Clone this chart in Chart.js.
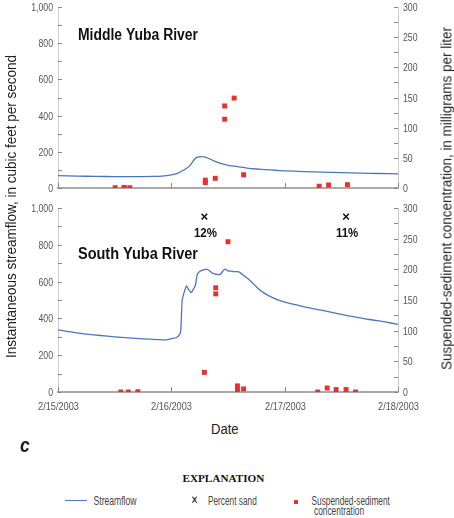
<!DOCTYPE html>
<html>
<head>
<meta charset="utf-8">
<script src="https://cdn.jsdelivr.net/npm/chart.js@4"></script>
<style>
  body { margin: 0; background: #fff; width: 454px; height: 518px; overflow: hidden; position: relative;
         font-family: "Liberation Sans", Arial, sans-serif; }
  canvas { position: absolute; left: 0; }
  .t { position: absolute; white-space: nowrap; color: #222; line-height: 1; }
</style>
</head>
<body>
<canvas id="top" width="454" height="192" style="top:0"></canvas>
<canvas id="bottom" width="454" height="225" style="top:195px"></canvas>

<!-- data-cx/cy = centre, data-w = width the text should take -->
<div class="t" data-cx="10" data-cy="206" data-w="303" data-rot="1" style="font-size:15px;">Instantaneous streamflow, in cubic feet per second</div>
<div class="t" data-cx="446" data-cy="198" data-w="343" data-rot="1" style="font-size:15px;">Suspended-sediment concentration, in milligrams per liter</div>
<div class="t" data-cx="225" data-cy="429" data-w="28" style="font-size:14px;">Date</div>
<div class="t" data-cx="25" data-cy="444" data-w="10" style="font-size:21px; font-weight:bold; font-style:italic;">c</div>
<div class="t" data-cx="223" data-cy="479.5" data-w="82" style="font-family:'Liberation Serif','DejaVu Serif',serif; font-weight:bold; font-size:10.5px; color:#111;">EXPLANATION</div>
<div style="position:absolute; left:65px; top:500px; width:22px; height:0; border-top:1px solid #4a76c4;"></div>
<div class="t" data-cx="114.5" data-cy="500.5" data-w="43" style="font-size:12px; color:#444;">Streamflow</div>
<div class="t" data-cx="194" data-cy="500" data-w="7" style="font-size:12px; color:#111;">&#x2715;</div>
<div class="t" data-cx="232.5" data-cy="500.5" data-w="49" style="font-size:12px; color:#444;">Percent sand</div>
<div style="position:absolute; left:294px; top:500px; width:4px; height:4px; background:#e8312a;"></div>
<div class="t" data-cx="350.5" data-cy="500.5" data-w="78" style="font-size:12px; color:#444;">Suspended-sediment</div>
<div class="t" data-cx="339" data-cy="511" data-w="50" style="font-size:12px; color:#444;">concentration</div>

<script>
// hours since 2/15/2003 00:00
var dayLabels = ["2/15/2003", "2/16/2003", "2/17/2003", "2/18/2003"];

// Middle Yuba River
var middleFlowHours = [0, 4, 8, 12, 16, 20, 22, 24, 25, 26, 27, 28, 28.7, 29.3, 30, 31, 32, 33, 34, 35, 36, 38, 40, 42, 44, 46, 48, 52, 56, 60, 64, 68, 72];
var middleFlow = [68, 66, 64, 63, 63, 64, 66, 72, 78, 90, 105, 125, 152, 168, 172, 172, 162, 150, 140, 132, 125, 118, 110, 105, 102, 98, 95, 91, 88, 85, 82, 80, 78];
var middleSedHours = [12.1, 14.0, 14.0, 15.2, 31.2, 31.2, 33.3, 35.3, 35.3, 37.3, 39.3, 55.3, 57.3, 61.3];
var middleSed = [0.5, 0, 1, 0.5, 9, 13, 16, 114, 136, 149, 22, 3, 5, 5.5];

// South Yuba River
var southFlowHours = [0, 3, 6, 9, 12, 15, 18, 21, 23, 24, 25, 25.7, 26, 26.3, 26.7, 27.2, 27.7, 28.2, 28.7, 29.1, 29.5, 30, 31, 31.5, 32, 32.8, 33.5, 34.3, 35, 35.4, 36, 37, 38, 38.5, 39.5, 40.5, 41.5, 42.5, 43.5, 45, 47, 49, 51, 53, 55, 57, 59, 61, 63, 65, 67, 69, 72];
var southFlow = [338, 325, 315, 307, 300, 294, 289, 285, 283, 290, 295, 310, 335, 500, 540, 576, 555, 540, 560, 580, 640, 655, 665, 668, 660, 645, 640, 638, 660, 668, 658, 655, 654, 650, 630, 610, 585, 560, 540, 518, 496, 482, 470, 458, 448, 438, 427, 416, 407, 398, 390, 382, 368];
var southSedHours = [13.3, 14.9, 16.9, 31.0, 33.4, 33.4, 36.0, 38.0, 38.0, 39.3, 55.0, 57.0, 58.9, 61.0, 63.0];
var southSed = [0, 0, 0.5, 32, 170, 160, 245, 10, 3, 5, 0, 6.5, 4, 4, 0];
var sandHours = [31, 61];
var sandPos = [286, 286];
var sandLabels = ["12%", "11%"];

var fam = "'Liberation Sans', Arial, sans-serif";
var squeeze = 0.76;   // fake a condensed face
var axisGray = "#aaa";

function pts(xs, ys) {
    var out = [];
    for (var i = 0; i < xs.length; i++) out.push({ x: xs[i], y: ys[i] });
    return out;
}

function narrowText(ctx, txt, x, y, align, sx) {
    ctx.save();
    ctx.translate(x, y);
    ctx.scale(sx, 1);
    ctx.textAlign = align;
    ctx.fillText(txt, 0, 0);
    ctx.restore();
}

// tick marks inside the plot box + narrow tick labels
var axesDeco = {
    id: "axesDeco",
    afterDraw: function(chart, args, opts) {
        var ctx = chart.ctx, a = chart.chartArea;
        var sy = chart.scales.y, sy1 = chart.scales.y1, sx = chart.scales.x;
        ctx.save();
        ctx.strokeStyle = "#888";
        ctx.lineWidth = 1;
        ctx.fillStyle = "#555";
        ctx.font = "11.5px " + fam;
        ctx.textBaseline = "middle";
        sy.ticks.forEach(function(t) {
            var p = Math.round(sy.getPixelForValue(t.value)) + 0.5;
            ctx.beginPath(); ctx.moveTo(a.left, p); ctx.lineTo(a.left + 4, p); ctx.stroke();
            if (t.value % 200 === 0) narrowText(ctx, t.value.toLocaleString("en-US"), a.left - 5, p, "right", squeeze);
        });
        sy1.ticks.forEach(function(t) {
            var p = Math.round(sy1.getPixelForValue(t.value)) + 0.5;
            ctx.beginPath(); ctx.moveTo(a.right, p); ctx.lineTo(a.right - 4, p); ctx.stroke();
            if (t.value % 50 === 0) narrowText(ctx, String(t.value), a.right + 5, p, "left", squeeze);
        });
        sx.ticks.forEach(function(t) {
            var p = Math.round(sx.getPixelForValue(t.value)) + 0.5;
            ctx.beginPath(); ctx.moveTo(p, a.bottom); ctx.lineTo(p, a.bottom - 5); ctx.stroke();
            if (opts.showX) narrowText(ctx, dayLabels[t.value / 24], p, a.bottom + 15, "center", 0.8);
        });
        ctx.restore();
    }
};

var panelTitle = {
    id: "panelTitle",
    afterDraw: function(chart, args, opts) {
        var ctx = chart.ctx, a = chart.chartArea;
        ctx.save();
        ctx.fillStyle = "#111";
        ctx.textBaseline = "alphabetic";
        ctx.font = "bold 16px " + fam;
        var w = ctx.measureText(opts.text).width;
        narrowText(ctx, opts.text, a.left + 20, a.top + opts.dy, "left", opts.w / w);
        if (opts.sand) {
            var meta = chart.getDatasetMeta(opts.sand);
            ctx.font = "bold 13.5px " + fam;
            meta.data.forEach(function(el, i) {
                narrowText(ctx, sandLabels[i], el.x + 1, el.y + 20, "center", 0.85);
            });
        }
        ctx.restore();
    }
};

function makeOptions(showX, xHeight, padTop, title, titleDy, sandIndex) {
    return {
        responsive: false,
        animation: false,
        layout: { padding: { top: padTop, left: 0, right: 0, bottom: 0 } },
        plugins: {
            legend: { display: false },
            tooltip: { enabled: false },
            axesDeco: { showX: showX },
            panelTitle: { text: title, dy: titleDy, sand: sandIndex, w: 120 }
        },
        scales: {
            x: {
                type: "linear", min: 0, max: 72,
                grid: { display: false },
                border: { display: true, color: axisGray, width: 2 },
                ticks: { display: false, stepSize: 24 },
                afterFit: function(s) { s.height = xHeight; }
            },
            y: {
                position: "left", min: 0, max: 1000,
                grid: { display: false },
                border: { display: true, color: "#ccc", width: 1 },
                ticks: { display: false, stepSize: 100 },
                afterFit: function(s) { s.width = 58; }
            },
            y1: {
                position: "right", min: 0, max: 300,
                grid: { display: false },
                border: { display: true, color: "#ccc", width: 1 },
                ticks: { display: false, stepSize: 25 },
                afterFit: function(s) { s.width = 56; }
            }
        }
    };
}

function flowSet(xs, ys) {
    return { type: "line", data: pts(xs, ys), yAxisID: "y", borderColor: "#4a76c4",
             borderWidth: 1.3, pointRadius: 0, tension: 0.2, order: 2 };
}
function sedSet(xs, ys) {
    return { type: "scatter", data: pts(xs, ys), yAxisID: "y1", pointStyle: "rect",
             pointRadius: 3.5, backgroundColor: "#e8312a", borderColor: "#e8312a", borderWidth: 0, order: 1 };
}

new Chart(document.getElementById("top"), {
    type: "line",
    data: { datasets: [flowSet(middleFlowHours, middleFlow), sedSet(middleSedHours, middleSed)] },
    options: makeOptions(false, 4, 7, "Middle Yuba River", 33, null),
    plugins: [axesDeco, panelTitle]
});

new Chart(document.getElementById("bottom"), {
    type: "line",
    data: {
        datasets: [
            flowSet(southFlowHours, southFlow),
            sedSet(southSedHours, southSed),
            { type: "scatter", data: pts(sandHours, sandPos), yAxisID: "y1", pointStyle: "crossRot",
              pointRadius: 4, borderColor: "#111", borderWidth: 1.5, order: 0 }
        ]
    },
    options: makeOptions(true, 28, 13, "South Yuba River", 51, 2),
    plugins: [axesDeco, panelTitle]
});

// squeeze the page texts to the widths they take in the figure
var texts = document.querySelectorAll(".t");
for (var i = 0; i < texts.length; i++) {
    var el = texts[i];
    var w = el.offsetWidth, h = el.offsetHeight;
    var s = parseFloat(el.getAttribute("data-w")) / w;
    el.style.left = (parseFloat(el.getAttribute("data-cx")) - w / 2) + "px";
    el.style.top = (parseFloat(el.getAttribute("data-cy")) - h / 2) + "px";
    el.style.transform = (el.getAttribute("data-rot") ? "rotate(-90deg) " : "") + "scaleX(" + s + ")";
}
</script>
</body>
</html>
